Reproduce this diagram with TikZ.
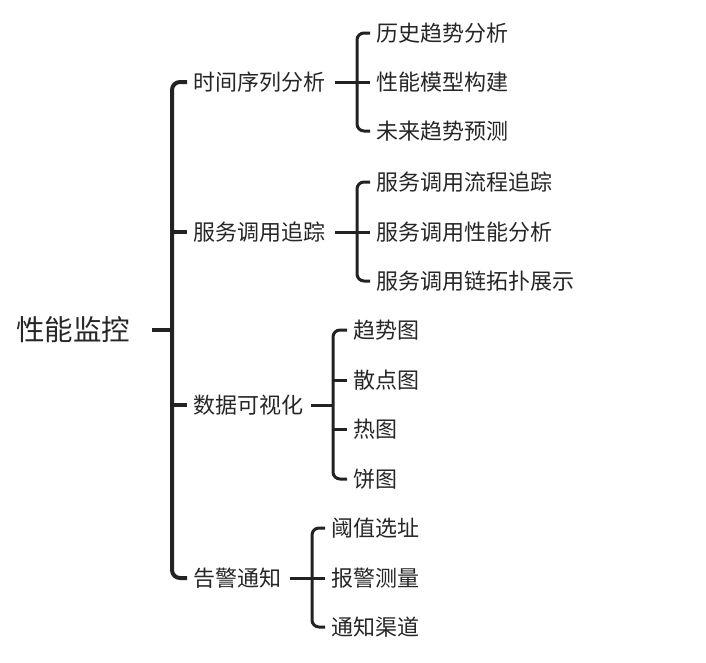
\documentclass[tikz,border=0pt]{standalone}
\usepackage{fontspec}
\setmainfont{Noto Sans CJK SC}
\definecolor{txt}{HTML}{262626}
\definecolor{ln}{HTML}{222222}
\begin{document}
\begin{tikzpicture}[x=1pt,y=-1pt,
  rootnode/.style={font=\fontsize{28.5}{32}\selectfont, anchor=west, inner sep=0pt, text=txt},
  item/.style={font=\fontsize{22}{26}\selectfont, anchor=west, inner sep=0pt, text=txt},
  mainbr/.style={line width=4pt, rounded corners=8pt, draw=ln},
  subbr/.style={line width=3pt, rounded corners=7pt, draw=ln}]
\useasboundingbox (0,0) rectangle (706,662);

% root
\node[rootnode] (root) at (16,330) {性能监控};
\coordinate (rs) at (152,330);
\coordinate (rb) at (172,330);
\draw[mainbr] (rs) -- (rb);

% level 1
\node[item] (a) at (193,82) {时间序列分析};
\node[item] (b) at (193,232) {服务调用追踪};
\node[item] (c) at (193,405) {数据可视化};
\node[item] (d) at (193,578) {告警通知};

\draw[mainbr] ([xshift=-6pt]a.west) -- (172,82) -- (172,578) -- ([xshift=-6pt]d.west);
\draw[mainbr] (172,232) -- ([xshift=-6pt]b.west);
\draw[mainbr] (172,405) -- ([xshift=-6pt]c.west);

% group a
\node[item] (a1) at (376,33) {历史趋势分析};
\node[item] (a2) at (376,82) {性能模型构建};
\node[item] (a3) at (376,131) {未来趋势预测};
\draw[subbr] (335,82) -- ([xshift=-6pt]a2.west);
\draw[subbr] ([xshift=-6pt]a1.west) -- (357,33) -- (357,131) -- ([xshift=-6pt]a3.west);

% group b
\node[item] (b1) at (376,182) {服务调用流程追踪};
\node[item] (b2) at (376,232) {服务调用性能分析};
\node[item] (b3) at (376,281) {服务调用链拓扑展示};
\draw[subbr] (335,232) -- ([xshift=-6pt]b2.west);
\draw[subbr] ([xshift=-6pt]b1.west) -- (357,182) -- (357,281) -- ([xshift=-6pt]b3.west);

% group c
\node[item] (c1) at (353,330) {趋势图};
\node[item] (c2) at (353,380) {散点图};
\node[item] (c3) at (353,429) {热图};
\node[item] (c4) at (353,479) {饼图};
\draw[subbr] (311,405) -- (333,405);
\draw[subbr] ([xshift=-6pt]c1.west) -- (333,330) -- (333,479) -- ([xshift=-6pt]c4.west);
\draw[subbr] (333,380) -- ([xshift=-6pt]c2.west);
\draw[subbr] (333,429) -- ([xshift=-6pt]c3.west);

% group d
\node[item] (d1) at (331,528) {阈值选址};
\node[item] (d2) at (331,578) {报警测量};
\node[item] (d3) at (331,627) {通知渠道};
\draw[subbr] (290,578) -- ([xshift=-6pt]d2.west);
\draw[subbr] ([xshift=-6pt]d1.west) -- (312,528) -- (312,627) -- ([xshift=-6pt]d3.west);
\end{tikzpicture}
\end{document}
